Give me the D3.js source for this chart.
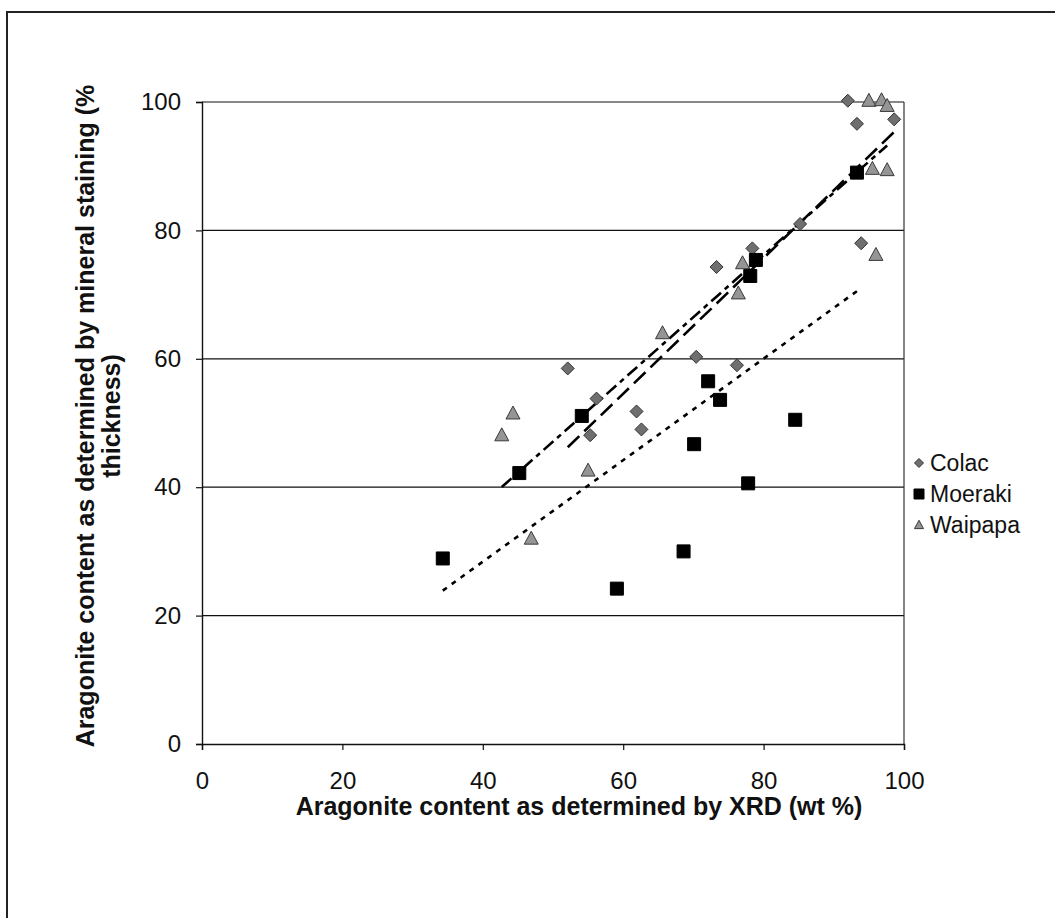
<!DOCTYPE html>
<html><head><meta charset="utf-8">
<script src="https://cdn.jsdelivr.net/npm/d3@7"></script>
<style>body{margin:0;background:#fff}svg{display:block}text{font-family:"Liberation Sans",Arial,sans-serif}</style>
</head><body>
<svg id="c" width="1055" height="918"></svg>
<script>
const xTicks=[0,20,40,60,80,100];
const yTicks=[0,20,40,60,80,100];
const seriesNames=["Colac","Moeraki","Waipapa"];
const colacX=[92.0,93.3,98.6,85.2,93.9,78.4,73.3,70.4,76.2,52.1,56.2,61.9,62.6,55.3];
const colacY=[100.2,96.6,97.3,81.0,78.0,77.2,74.3,60.3,59.0,58.5,53.8,51.8,49.0,48.1];
const moerakiX=[34.3,45.2,54.1,59.1,68.6,70.1,72.1,73.8,77.8,78.1,78.9,84.5,93.3];
const moerakiY=[28.9,42.2,51.1,24.2,30.0,46.7,56.5,53.6,40.6,72.9,75.4,50.5,89.0];
const waipapaX=[95.0,96.8,97.6,95.5,97.6,96.0,77.0,76.4,65.6,44.3,42.7,55.0,46.9];
const waipapaY=[100.2,100.3,99.4,89.6,89.4,76.2,74.9,70.2,64.0,51.5,48.1,42.6,32.0];

const svg=d3.select("#c");
svg.append("path").attr("d","M7,918 V12 H1055").attr("fill","none").attr("stroke","#222").attr("stroke-width",2);

const L=202,R=904,T=102,B=744;
const x=d3.scaleLinear().domain([0,100]).range([L,R]);
const y=d3.scaleLinear().domain([0,100]).range([B,T]);

svg.append("g").selectAll("line").data(yTicks.filter(d=>d>0)).join("line")
 .attr("x1",L).attr("x2",R).attr("y1",d=>y(d)).attr("y2",d=>y(d)).attr("stroke","#111").attr("stroke-width",1.2);
svg.append("line").attr("x1",R).attr("x2",R).attr("y1",T).attr("y2",B).attr("stroke","#333").attr("stroke-width",1.2);

const xa=svg.append("g").attr("transform",`translate(0,${B})`).call(d3.axisBottom(x).tickValues(xTicks).tickSize(6).tickPadding(22));
const ya=svg.append("g").attr("transform",`translate(${L},0)`).call(d3.axisLeft(y).tickValues(yTicks).tickSize(6).tickPadding(12));
[xa,ya].forEach(a=>{a.select(".domain").attr("stroke","#111").attr("stroke-width",1.4);
 a.selectAll(".tick line").attr("stroke","#111").attr("stroke-width",1.2);
 a.selectAll("text").attr("font-size",24).attr("fill","#111").style("font-family",'"Liberation Sans",Arial,sans-serif');});
ya.selectAll(".tick text").attr("dx",-3);

function fit(xs,ys){const n=xs.length,mx=d3.mean(xs),my=d3.mean(ys);
 let sxy=0,sxx=0;for(let i=0;i<n;i++){sxy+=(xs[i]-mx)*(ys[i]-my);sxx+=(xs[i]-mx)**2;}
 const b=sxy/sxx,a=my-b*mx;const x0=d3.min(xs),x1=d3.max(xs);return [[x0,a+b*x0],[x1,a+b*x1]];}
const lineGen=d3.line().x(d=>x(d[0])).y(d=>y(d[1]));
const lines=[[moerakiX,moerakiY,"5,6"],[colacX,colacY,"16,7"],[waipapaX,waipapaY,"13,5,5,5"]];
lines.forEach(([xs,ys,da])=>{svg.append("path").attr("d",lineGen(fit(xs,ys))).attr("fill","none")
 .attr("stroke","#000").attr("stroke-width",2.6).attr("stroke-dasharray",da);});

const diamond=(r)=>`M0,${-r}L${r},0L0,${r}L${-r},0Z`;
const square=(r)=>`M${-r},${-r}H${r}V${r}H${-r}Z`;
const tri=(r)=>`M0,${-r*1.05}L${r},${r*0.8}L${-r},${r*0.8}Z`;
const shapes={Colac:diamond,Moeraki:square,Waipapa:tri};
const fills={Colac:"#6f6f6f",Moeraki:"#000",Waipapa:"#959595"};
const strokes={Colac:"#333",Moeraki:"#000",Waipapa:"#3a3a3a"};
const sizes={Colac:6.5,Moeraki:6.5,Waipapa:7};
const data={Colac:[colacX,colacY],Moeraki:[moerakiX,moerakiY],Waipapa:[waipapaX,waipapaY]};
seriesNames.forEach(s=>{const [xs,ys]=data[s];
 svg.append("g").selectAll("path").data(xs.map((v,i)=>[v,ys[i]])).join("path")
  .attr("transform",d=>`translate(${x(d[0])},${y(d[1])})`)
  .attr("d",shapes[s](sizes[s])).attr("fill",fills[s]).attr("stroke",strokes[s]).attr("stroke-width",1);});

const lg=svg.append("g");
seriesNames.forEach((s,i)=>{const yy=463+i*31;
 lg.append("path").attr("transform",`translate(919,${yy})`).attr("d",shapes[s](s==="Moeraki"?5:4.5)).attr("fill",fills[s]).attr("stroke",strokes[s]).attr("stroke-width",1);
 lg.append("text").attr("x",930).attr("y",yy+8).attr("font-size",23).attr("fill","#111").text(s);});

svg.append("text").attr("x",579).attr("y",815).attr("text-anchor","middle").attr("font-size",25).attr("font-weight","bold").attr("fill","#111")
 .text("Aragonite content as determined by XRD (wt %)");
const yt=svg.append("text").attr("transform","translate(0,416) rotate(-90)").attr("text-anchor","middle").attr("font-size",25).attr("font-weight","bold").attr("fill","#111");
yt.append("tspan").attr("x",0).attr("y",94).text("Aragonite content as determined by mineral staining (%");
yt.append("tspan").attr("x",0).attr("y",120).text("thickness)");
</script>
</body></html>
